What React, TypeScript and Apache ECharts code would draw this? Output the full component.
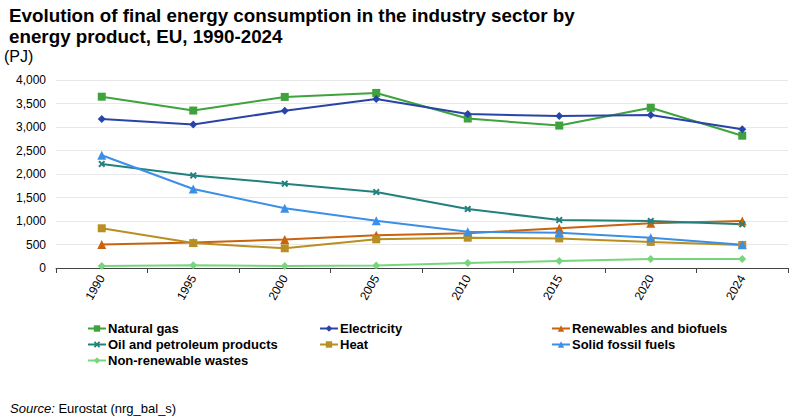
import React, { useEffect, useRef } from "react";
import * as echarts from "echarts";

const years = ["1990", "1995", "2000", "2005", "2010", "2015", "2020", "2024"];
const naturalGas = [3645, 3350, 3640, 3725, 3180, 3030, 3410, 2815];
const electricity = [3170, 3055, 3345, 3595, 3275, 3235, 3255, 2950];
const renewables = [500, 540, 605, 695, 740, 845, 950, 1000];
const oil = [2215, 1970, 1795, 1615, 1255, 1020, 1000, 930];
const heat = [845, 530, 420, 610, 645, 630, 555, 490];
const solidFossil = [2400, 1680, 1270, 1005, 770, 750, 645, 495];
const wastes = [40, 60, 40, 55, 105, 150, 190, 190];
const yTicks = [0, 500, 1000, 1500, 2000, 2500, 3000, 3500, 4000];

const FONT = "Liberation Sans, Arial, sans-serif";
const xMark = "path://M0,2 L2,0 L5,3 L8,0 L10,2 L7,5 L10,8 L8,10 L5,7 L2,10 L0,8 L3,5 Z";

const seriesDefs = [
  { name: "Natural gas", data: naturalGas, color: "#3ea33c", symbol: "rect", size: 8 },
  { name: "Electricity", data: electricity, color: "#2944a8", symbol: "diamond", size: 8 },
  { name: "Renewables and biofuels", data: renewables, color: "#c9630e", symbol: "triangle", size: 9 },
  { name: "Oil and petroleum products", data: oil, color: "#23817d", symbol: xMark, size: 7 },
  { name: "Heat", data: heat, color: "#b88f22", symbol: "rect", size: 8 },
  { name: "Solid fossil fuels", data: solidFossil, color: "#3b8fe8", symbol: "triangle", size: 9 },
  { name: "Non-renewable wastes", data: wastes, color: "#77d67c", symbol: "diamond", size: 8 },
];

const legendCols = [
  { left: 82, names: ["Natural gas", "Oil and petroleum products", "Non-renewable wastes"] },
  { left: 314, names: ["Electricity", "Heat"] },
  { left: 546, names: ["Renewables and biofuels", "Solid fossil fuels"] },
];

export default function App() {
  const ref = useRef<HTMLDivElement>(null);
  useEffect(() => {
    if (!ref.current) return;
    const chart = echarts.init(ref.current, undefined, { renderer: "svg" });
    chart.setOption({
      animation: false,
      backgroundColor: "#ffffff",
      textStyle: { fontFamily: FONT },
      title: {
        text: "Evolution of final energy consumption in the industry sector by\nenergy product, EU, 1990-2024",
        left: 4,
        top: 0,
        textStyle: { fontFamily: FONT, fontSize: 18.8, fontWeight: "bold", color: "#000", lineHeight: 21 },
      },
      graphic: [
        { type: "text", left: 4, top: 48, style: { text: "(PJ)", fontFamily: FONT, fontSize: 16, fill: "#000" } },
        {
          type: "text",
          left: 10,
          top: 402,
          style: {
            text: "{i|Source:} Eurostat (nrg_bal_s)",
            fontFamily: FONT,
            fontSize: 13,
            fill: "#000",
            rich: { i: { fontStyle: "italic", fontFamily: FONT, fontSize: 13, fill: "#000" } },
          },
        },
      ],
      legend: legendCols.map((c) => ({
        data: c.names,
        left: c.left,
        top: 317,
        orient: "vertical",
        itemGap: 3,
        itemWidth: 18,
        itemHeight: 8,
        textStyle: { fontFamily: FONT, fontSize: 13, fontWeight: "bold", color: "#000", padding: [0, 0, 0, -3] },
      })),
      grid: { left: 56, right: 12, top: 80, bottom: 150 },
      xAxis: {
        type: "category",
        data: years,
        boundaryGap: true,
        axisLine: { lineStyle: { color: "#444", width: 1 } },
        axisTick: { show: true, length: 5, lineStyle: { color: "#444" } },
        axisLabel: { rotate: 60, fontSize: 12, color: "#000", fontFamily: FONT, margin: 8 },
      },
      yAxis: {
        type: "value",
        min: 0,
        max: 4000,
        interval: 500,
        axisLine: { show: false },
        axisTick: { show: false },
        splitLine: { lineStyle: { color: "#e8e8e8", width: 1 } },
        axisLabel: {
          fontSize: 12,
          color: "#000",
          fontFamily: FONT,
          margin: 10,
          formatter: (v: number) => (yTicks.includes(v) ? v.toLocaleString("en-US") : ""),
        },
      },
      series: seriesDefs.map((s) => ({
        name: s.name,
        type: "line",
        data: s.data,
        symbol: s.symbol,
        symbolSize: s.size,
        showSymbol: true,
        color: s.color,
        lineStyle: { width: 2, color: s.color },
        itemStyle: { color: s.color },
      })),
    });
    return () => chart.dispose();
  }, []);
  return <div ref={ref} style={{ width: 800, height: 418, position: "absolute", left: 0, top: 0 }} />;
}
